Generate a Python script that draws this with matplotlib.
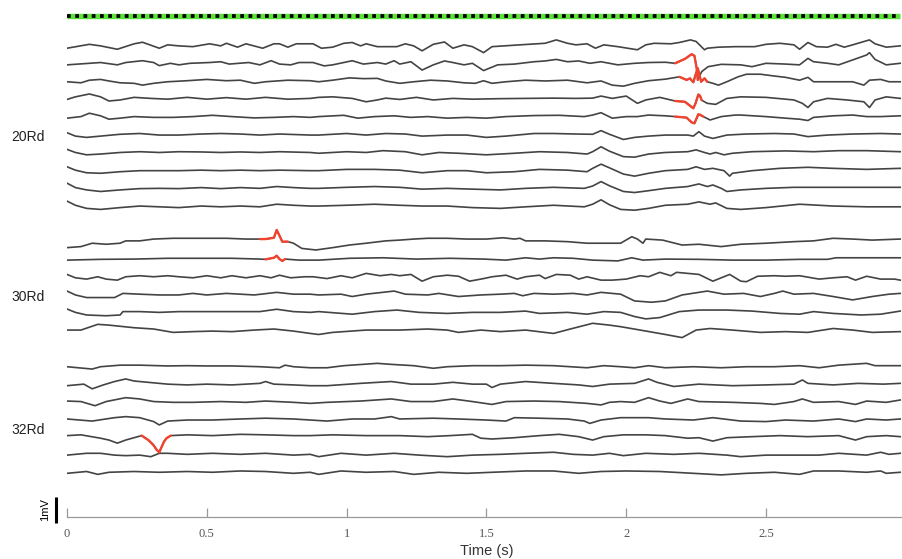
import numpy as np
import matplotlib
matplotlib.use("Agg")
import matplotlib.pyplot as plt

# ---- data: each trace is (time in s, deviation in mV) keypoints ----
trace_01 = [(0, -.09), (.08, .06), (.12, 0), (.18, -.13), (.24, .08), (.27, .14), (.33, -.09), (.36, .04), (.40, 0), (.45, -.03), (.51, .08), (.55, 0), (.57, .10), (.61, -.05), (.64, .08), (.70, -.09), (.74, .08), (.76, .08), (.79, -.05), (.82, .08), (.88, .08), (.91, -.09), (.95, -.05), (.99, .10), (1.02, .13), (1.05, 0), (1.07, .08), (1.11, -.03), (1.18, -.03), (1.21, .08), (1.24, 0), (1.27, -.19), (1.31, .06), (1.35, .15), (1.38, -.09), (1.42, .04), (1.45, -.03), (1.49, -.26), (1.52, -.03), (1.62, .04), (1.71, .10), (1.75, .23), (1.79, .10), (1.82, .04), (1.86, .08), (1.89, -.09), (1.92, .04), (1.97, -.03), (2.04, -.15), (2.07, .04), (2.10, .10), (2.16, .08), (2.19, .13), (2.23, .23), (2.25, .17), (2.28, -.15), (2.29, -.09), (2.33, -.05), (2.39, -.03), (2.46, -.03), (2.50, .06), (2.55, .10), (2.60, .04), (2.62, -.13), (2.65, .13), (2.68, -.03), (2.72, -.05), (2.75, .06), (2.78, -.05), (2.81, .04), (2.87, .23), (2.89, .08), (2.93, -.05), (2.98, 0)]
trace_02 = [(0, -.06), (.08, 0), (.12, .03), (.18, -.06), (.21, .03), (.27, .10), (.31, .03), (.33, -.09), (.37, 0), (.40, -.06), (.44, 0), (.51, .03), (.55, .06), (.58, -.03), (.65, .03), (.69, -.06), (.73, .10), (.76, -.03), (.80, -.06), (.83, .03), (.88, .03), (.92, -.10), (.95, -.06), (.99, .03), (1.02, .10), (1.06, -.03), (1.11, .03), (1.14, -.03), (1.17, .10), (1.19, -.03), (1.23, .06), (1.27, -.26), (1.31, -.06), (1.35, .09), (1.38, .03), (1.42, -.06), (1.45, 0), (1.49, -.28), (1.54, -.06), (1.60, -.03), (1.67, .06), (1.71, .09), (1.75, .15), (1.79, .06), (1.83, .09), (1.87, 0), (1.91, .06), (1.97, -.06), (2.03, 0), (2.08, .03), (2.14, .04), (2.175, 0), (2.21, .17), (2.234, .35), (2.244, .29), (2.252, -.19), (2.256, -.64), (2.27, -.32), (2.293, -.13), (2.34, -.04), (2.41, -.06), (2.45, -.13), (2.50, 0), (2.57, -.03), (2.62, -.06), (2.65, .19), (2.67, .06), (2.72, 0), (2.76, -.06), (2.81, .13), (2.86, .32), (2.87, .41), (2.89, .15), (2.93, -.06), (2.98, 0)]
trace_03 = [(0, 0), (.05, -.04), (.08, .06), (.12, .09), (.15, .03), (.19, -.04), (.24, -.06), (.27, -.13), (.31, -.06), (.36, 0), (.43, .04), (.50, .09), (.57, .04), (.62, .06), (.67, -.06), (.71, 0), (.79, .06), (.87, .04), (.90, 0), (.95, .06), (1.01, .15), (1.06, .12), (1.11, .13), (1.14, .03), (1.19, -.06), (1.24, 0), (1.30, .06), (1.36, .03), (1.42, -.04), (1.46, -.06), (1.49, .04), (1.52, -.06), (1.57, 0), (1.64, .06), (1.71, .03), (1.79, .06), (1.86, -.04), (1.91, .03), (1.95, -.13), (1.99, -.17), (2.03, -.06), (2.08, .04), (2.14, .10), (2.19, .19), (2.216, .07), (2.228, .13), (2.24, -.02), (2.248, .26), (2.256, .52), (2.262, .26), (2.268, 0), (2.28, .13), (2.29, 0), (2.31, -.06), (2.33, -.13), (2.36, 0), (2.40, .19), (2.43, .29), (2.48, .29), (2.53, .22), (2.57, .17), (2.62, .06), (2.65, .17), (2.67, 0), (2.72, 0), (2.81, 0), (2.85, -.13), (2.87, .06), (2.91, .09), (2.94, 0), (2.98, 0)]
trace_04 = [(0, -.04), (.03, .06), (.08, .17), (.12, .06), (.15, -.10), (.19, -.06), (.24, .04), (.30, 0), (.36, -.03), (.43, .04), (.50, -.03), (.57, .03), (.64, -.03), (.71, .04), (.79, -.03), (.87, 0), (.90, .04), (.95, .06), (1.02, 0), (1.07, -.13), (1.11, -.06), (1.14, .01), (1.19, -.04), (1.25, .04), (1.31, -.06), (1.38, 0), (1.45, -.03), (1.55, -.01), (1.64, 0), (1.74, .01), (1.82, 0), (1.88, .01), (1.91, .09), (1.95, 0), (2.0, .09), (2.04, -.19), (2.07, -.06), (2.12, .04), (2.175, -.10), (2.21, -.13), (2.228, -.28), (2.24, -.38), (2.248, -.19), (2.258, .15), (2.264, .10), (2.27, -.07), (2.29, -.19), (2.32, -.23), (2.36, 0), (2.41, .06), (2.50, .04), (2.60, -.06), (2.63, -.19), (2.65, -.35), (2.67, -.13), (2.72, 0), (2.79, -.06), (2.85, -.13), (2.87, -.35), (2.89, -.06), (2.93, .06), (2.98, 0)]
trace_05 = [(0, -.06), (.05, 0), (.08, .13), (.12, .03), (.15, -.10), (.19, -.06), (.24, 0), (.31, -.03), (.38, -.03), (.45, 0), (.52, .05), (.59, 0), (.67, -.05), (.74, -.03), (.81, 0), (.87, -.03), (.90, 0), (.99, .05), (1.04, -.06), (1.10, 0), (1.17, .03), (1.23, -.03), (1.29, 0), (1.36, -.06), (1.43, -.03), (1.50, -.06), (1.57, 0), (1.67, .04), (1.76, .05), (1.85, 0), (1.88, .06), (1.91, .15), (1.95, -.06), (2.0, 0), (2.04, 0), (2.08, .06), (2.14, .03), (2.175, 0), (2.216, -.04), (2.234, -.22), (2.244, -.26), (2.252, -.06), (2.258, .09), (2.264, .07), (2.276, 0), (2.30, -.13), (2.34, 0), (2.39, .06), (2.41, .06), (2.50, 0), (2.57, -.06), (2.62, -.10), (2.65, -.15), (2.67, -.03), (2.74, .03), (2.81, .06), (2.86, 0), (2.91, 0), (2.98, .03)]
trace_06 = [(0, .09), (.03, -.04), (.07, -.09), (.12, -.04), (.19, .03), (.26, .06), (.33, 0), (.40, 0), (.48, .04), (.55, .06), (.62, .04), (.69, 0), (.76, .04), (.87, 0), (.90, 0), (1.0, .06), (1.07, 0), (1.14, .06), (1.21, .04), (1.27, -.04), (1.36, 0), (1.43, 0), (1.50, -.09), (1.57, -.04), (1.67, .06), (1.74, .06), (1.82, .04), (1.88, .03), (1.91, .17), (1.94, .03), (1.99, -.17), (2.03, -.09), (2.08, -.04), (2.14, 0), (2.22, 0), (2.24, -.04), (2.26, .13), (2.28, -.04), (2.31, -.13), (2.36, 0), (2.43, .04), (2.53, .06), (2.60, .04), (2.65, -.06), (2.72, 0), (2.81, .04), (2.91, .06), (2.98, .04)]
trace_07 = [(0, .15), (.03, .03), (.07, -.06), (.12, -.03), (.19, .03), (.26, .06), (.33, .03), (.40, .06), (.48, .05), (.55, .03), (.62, .05), (.69, .03), (.76, .06), (.87, .03), (.90, 0), (1.0, .06), (1.07, .03), (1.13, .10), (1.21, .06), (1.27, -.06), (1.33, .03), (1.40, 0), (1.50, -.06), (1.60, 0), (1.69, .06), (1.79, .03), (1.86, -.03), (1.88, .06), (1.91, .25), (1.94, .08), (1.99, -.13), (2.03, -.15), (2.08, -.03), (2.14, .03), (2.22, .06), (2.25, .13), (2.28, .03), (2.30, -.03), (2.32, .03), (2.35, -.06), (2.38, 0), (2.45, .06), (2.57, .09), (2.67, .06), (2.76, .10), (2.86, .10), (2.98, .06)]
trace_08 = [(0, .19), (.03, .06), (.07, -.04), (.12, -.06), (.19, 0), (.26, .04), (.33, .04), (.40, .04), (.48, .06), (.55, .04), (.62, .06), (.69, .04), (.76, .06), (.87, .04), (.90, .04), (1.0, .09), (1.10, .09), (1.19, .06), (1.27, -.04), (1.36, .04), (1.43, .04), (1.50, -.04), (1.60, 0), (1.69, .09), (1.79, .06), (1.86, 0), (1.88, .13), (1.91, .29), (1.94, .15), (1.99, -.09), (2.03, -.17), (2.08, -.06), (2.14, .04), (2.22, .09), (2.25, .19), (2.28, .09), (2.31, .13), (2.35, .04), (2.37, -.17), (2.38, -.06), (2.45, .04), (2.55, .13), (2.65, .17), (2.74, .13), (2.86, .09), (2.98, .13)]
trace_09 = [(0, .26), (.03, .09), (.07, 0), (.12, -.06), (.19, 0), (.26, .05), (.33, .06), (.40, .05), (.48, .09), (.55, .05), (.62, .09), (.69, .06), (.75, .13), (.81, .09), (.87, .06), (.90, .06), (1.0, .10), (1.10, .13), (1.19, .10), (1.27, .03), (1.36, .06), (1.45, .03), (1.55, 0), (1.64, .06), (1.74, .10), (1.85, .06), (1.88, .15), (1.91, .32), (1.94, .16), (1.99, -.06), (2.03, -.10), (2.08, -.03), (2.14, .06), (2.22, .13), (2.26, .23), (2.29, .13), (2.31, .19), (2.34, .06), (2.36, -.06), (2.41, 0), (2.50, .06), (2.60, .10), (2.69, .10), (2.81, .10), (2.98, .10)]
trace_10 = [(0, .22), (.03, .06), (.07, -.06), (.12, -.10), (.19, -.03), (.26, .03), (.33, 0), (.40, -.03), (.48, .03), (.55, 0), (.62, .03), (.69, 0), (.75, .10), (.81, .06), (.87, .03), (.90, .03), (1.0, .06), (1.10, .10), (1.19, .06), (1.27, .03), (1.36, .03), (1.45, -.03), (1.55, -.06), (1.64, 0), (1.74, .06), (1.85, 0), (1.88, .10), (1.91, .27), (1.94, .08), (1.98, -.10), (2.03, -.13), (2.08, -.06), (2.14, .06), (2.22, .10), (2.26, .19), (2.30, .10), (2.32, .15), (2.36, -.06), (2.41, -.10), (2.50, -.03), (2.62, .10), (2.74, .03), (2.86, 0), (2.98, 0)]
trace_11 = [(0, -.23), (.05, -.19), (.09, -.06), (.14, -.10), (.19, -.06), (.21, .03), (.26, .03), (.31, .10), (.38, .13), (.48, .13), (.57, .13), (.64, .10), (.69, .10), (.71, .10), (.74, .15), (.75, .45), (.76, .23), (.77, 0), (.79, 0), (.81, -.06), (.84, -.26), (.89, -.32), (.95, -.23), (1.01, -.13), (1.07, -.06), (1.14, .03), (1.19, .06), (1.24, .10), (1.29, .13), (1.36, .13), (1.43, .10), (1.50, .10), (1.56, .15), (1.60, .10), (1.62, .13), (1.64, .03), (1.71, .03), (1.79, 0), (1.86, -.06), (1.91, -.06), (1.98, -.06), (2.02, .19), (2.04, .10), (2.06, -.06), (2.07, .10), (2.13, .06), (2.20, -.13), (2.26, -.10), (2.34, -.19), (2.41, -.10), (2.50, -.06), (2.60, 0), (2.67, .03), (2.74, .13), (2.81, .10), (2.88, .06), (2.98, .10)]
trace_12 = [(0, -.03), (.12, 0), (.24, .01), (.36, .04), (.48, .04), (.59, .04), (.69, .01), (.71, 0), (.74, .06), (.75, .14), (.76, .01), (.77, -.06), (.78, .01), (.83, -.03), (.90, -.03), (1.01, .04), (1.13, .06), (1.25, .01), (1.37, .04), (1.49, .01), (1.57, -.03), (1.64, .06), (1.69, .01), (1.74, .06), (1.81, .04), (1.88, -.03), (1.97, -.06), (2.02, .06), (2.06, -.03), (2.14, .01), (2.26, 0), (2.38, -.03), (2.50, -.03), (2.62, 0), (2.72, 0), (2.75, .06), (2.86, .06), (2.98, .06)]
trace_13 = [(0, .13), (.03, 0), (.07, -.05), (.11, .04), (.14, -.05), (.18, -.09), (.21, .04), (.26, .08), (.31, .04), (.36, .08), (.40, .04), (.45, 0), (.50, .08), (.55, 0), (.59, .08), (.64, 0), (.69, .08), (.73, 0), (.76, .10), (.80, 0), (.85, .04), (.88, .04), (.93, -.03), (.98, .08), (1.02, 0), (1.07, .17), (1.12, .08), (1.16, .13), (1.19, .08), (1.23, .13), (1.27, -.13), (1.31, .04), (1.36, .10), (1.40, .06), (1.44, -.13), (1.49, -.03), (1.52, .04), (1.57, .10), (1.61, -.05), (1.64, .04), (1.69, .10), (1.71, -.03), (1.75, .13), (1.80, .10), (1.83, -.05), (1.86, .04), (1.91, -.09), (1.95, -.09), (2.0, -.05), (2.05, .08), (2.08, .04), (2.12, .21), (2.16, .08), (2.18, .21), (2.22, .17), (2.26, .13), (2.31, -.13), (2.37, .13), (2.41, -.13), (2.43, -.15), (2.47, .06), (2.53, .08), (2.57, .06), (2.62, .08), (2.69, -.05), (2.74, 0), (2.79, .04), (2.82, -.09), (2.86, .06), (2.91, -.05), (2.96, -.05), (2.98, -.09)]
trace_14 = [(0, .15), (.03, 0), (.07, -.10), (.12, -.10), (.17, -.10), (.20, .06), (.26, .03), (.33, 0), (.40, 0), (.45, .06), (.50, 0), (.57, .06), (.62, .03), (.67, 0), (.75, .10), (.81, .03), (.87, .03), (.90, 0), (.98, .03), (1.02, -.06), (1.07, .03), (1.17, .15), (1.21, .03), (1.29, 0), (1.33, .06), (1.40, -.06), (1.48, 0), (1.55, .03), (1.60, .06), (1.63, -.03), (1.67, .06), (1.74, .03), (1.81, .06), (1.86, 0), (1.91, .10), (1.98, .03), (2.03, -.23), (2.09, -.28), (2.14, -.23), (2.20, 0), (2.29, .15), (2.35, .03), (2.42, .06), (2.48, -.06), (2.53, .06), (2.56, .15), (2.60, .03), (2.67, .06), (2.74, -.06), (2.81, -.19), (2.88, -.06), (2.94, .03), (2.98, .06)]
trace_15 = [(0, .14), (.03, .01), (.07, -.09), (.14, -.12), (.19, -.09), (.20, .04), (.26, .04), (.33, .01), (.40, .04), (.48, .04), (.55, .04), (.62, .04), (.69, .04), (.75, .13), (.81, .04), (.87, .01), (.90, .04), (1.02, -.06), (1.10, .04), (1.18, .10), (1.26, .01), (1.36, -.03), (1.45, .01), (1.55, .01), (1.64, .06), (1.69, -.03), (1.79, .01), (1.86, -.06), (1.92, .04), (1.98, .01), (2.03, -.15), (2.07, -.24), (2.12, -.19), (2.19, .04), (2.26, .10), (2.36, .10), (2.45, .06), (2.55, -.03), (2.62, -.06), (2.67, .04), (2.74, -.03), (2.84, -.09), (2.91, -.06), (2.98, .06)]
trace_16 = [(0, 0), (.05, 0), (.11, .22), (.15, .19), (.24, .09), (.31, .04), (.38, -.09), (.45, -.06), (.52, -.04), (.59, -.06), (.67, 0), (.74, .04), (.81, -.04), (.87, -.13), (.90, -.17), (.95, -.09), (1.07, 0), (1.19, 0), (1.29, .04), (1.36, 0), (1.40, -.09), (1.48, 0), (1.55, -.06), (1.64, 0), (1.74, -.13), (1.80, .04), (1.88, .26), (1.94, .19), (1.98, .13), (2.05, 0), (2.14, -.17), (2.20, -.29), (2.25, 0), (2.30, .06), (2.38, 0), (2.48, -.09), (2.57, -.06), (2.65, -.09), (2.74, .06), (2.81, 0), (2.88, -.09), (2.98, -.06)]
trace_17 = [(0, 0), (.06, -.06), (.09, -.09), (.12, 0), (.19, .06), (.26, .06), (.36, .03), (.43, .04), (.50, .03), (.59, .03), (.69, 0), (.76, -.04), (.78, .06), (.81, 0), (.87, -.04), (.93, -.04), (.99, .04), (1.11, .13), (1.16, .09), (1.24, .04), (1.31, -.06), (1.36, 0), (1.45, .04), (1.55, .04), (1.64, .06), (1.74, .04), (1.86, -.04), (1.92, .04), (1.98, 0), (2.03, -.04), (2.08, .04), (2.14, -.04), (2.24, 0), (2.34, -.04), (2.43, 0), (2.53, 0), (2.62, .04), (2.69, -.04), (2.76, .06), (2.86, .13), (2.89, .04), (2.98, .04)]
trace_18 = [(0, -.03), (.06, .03), (.09, -.15), (.13, 0), (.17, .13), (.21, .23), (.24, .15), (.29, .10), (.36, .03), (.43, 0), (.50, .03), (.59, 0), (.69, .06), (.71, .13), (.74, .03), (.81, 0), (.87, -.03), (.93, -.03), (1.05, .06), (1.16, .13), (1.23, .03), (1.31, .03), (1.38, .10), (1.45, .03), (1.50, .03), (1.52, -.10), (1.55, .03), (1.64, .13), (1.74, .06), (1.83, 0), (1.88, -.06), (1.94, .03), (2.03, .06), (2.08, .23), (2.11, .10), (2.17, -.06), (2.26, .03), (2.38, -.03), (2.50, 0), (2.60, .03), (2.63, .19), (2.65, .06), (2.74, 0), (2.83, .06), (2.92, .03), (2.98, .06)]
trace_19 = [(0, .05), (.05, .03), (.10, -.13), (.14, .03), (.21, .18), (.26, .13), (.31, .03), (.38, 0), (.45, 0), (.55, .03), (.64, 0), (.71, .05), (.81, 0), (.87, -.04), (.93, 0), (1.05, .05), (1.16, .13), (1.23, .03), (1.31, .03), (1.38, .13), (1.45, .03), (1.52, -.08), (1.57, .03), (1.67, .05), (1.76, .03), (1.86, -.04), (1.91, -.10), (1.94, 0), (1.98, .03), (2.03, 0), (2.08, .18), (2.12, .05), (2.16, -.04), (2.22, .13), (2.26, .03), (2.38, 0), (2.48, -.04), (2.53, -.08), (2.60, .03), (2.63, .13), (2.67, 0), (2.76, .03), (2.82, -.08), (2.86, .05), (2.93, 0), (2.98, .09)]
trace_20 = [(0, 0), (.09, -.08), (.17, .05), (.21, .09), (.26, .05), (.31, -.10), (.33, -.23), (.36, -.08), (.43, -.04), (.52, -.04), (.62, 0), (.71, .03), (.81, 0), (.87, -.04), (.93, -.08), (1.02, 0), (1.10, 0), (1.16, .09), (1.19, 0), (1.31, .03), (1.40, 0), (1.50, -.04), (1.57, -.08), (1.60, .05), (1.69, .03), (1.79, 0), (1.85, -.08), (1.87, -.17), (1.91, -.04), (1.98, .05), (2.08, .05), (2.14, 0), (2.24, -.04), (2.31, .05), (2.41, -.08), (2.50, -.10), (2.57, -.04), (2.67, -.08), (2.76, 0), (2.82, -.10), (2.86, 0), (2.93, -.04), (2.98, 0)]
trace_21 = [(0, 0), (.05, .03), (.12, -.10), (.15, -.17), (.18, -.29), (.21, -.17), (.26, -.02), (.267, 0), (.291, -.17), (.309, -.36), (.321, -.55), (.330, -.64), (.339, -.42), (.347, -.23), (.356, -.10), (.371, 0), (.43, .03), (.52, 0), (.62, .05), (.71, .03), (.81, 0), (.87, 0), (.95, .03), (1.07, 0), (1.19, 0), (1.29, -.04), (1.37, 0), (1.45, .05), (1.48, -.10), (1.52, -.13), (1.60, -.08), (1.69, 0), (1.76, .05), (1.83, -.04), (1.88, -.17), (1.92, -.04), (1.99, .03), (2.07, .03), (2.14, 0), (2.22, -.10), (2.26, -.08), (2.31, -.21), (2.36, -.08), (2.45, -.04), (2.55, 0), (2.65, -.04), (2.76, 0), (2.82, -.17), (2.86, -.04), (2.93, 0), (2.98, -.04)]
trace_22 = [(0, -.03), (.07, .04), (.12, .04), (.17, -.03), (.21, -.05), (.26, -.03), (.30, -.09), (.33, .04), (.36, .04), (.43, 0), (.52, .04), (.62, 0), (.71, .04), (.81, -.03), (.87, 0), (.90, -.09), (.98, .04), (1.07, -.03), (1.17, .04), (1.26, -.03), (1.36, -.09), (1.45, -.03), (1.55, 0), (1.64, .04), (1.74, .08), (1.81, 0), (1.88, -.03), (1.94, .04), (1.99, -.05), (2.07, .04), (2.17, 0), (2.26, .04), (2.36, -.03), (2.41, -.09), (2.50, -.03), (2.60, -.03), (2.69, -.03), (2.76, .04), (2.86, -.03), (2.91, .08), (2.94, 0), (2.98, .04)]
trace_23 = [(0, -.04), (.07, .03), (.11, -.08), (.15, 0), (.24, .03), (.33, 0), (.43, .03), (.52, 0), (.62, .05), (.71, .03), (.81, -.04), (.87, 0), (.90, -.08), (.98, .05), (1.07, 0), (1.17, .03), (1.24, -.08), (1.33, 0), (1.43, -.04), (1.52, 0), (1.64, .05), (1.74, .05), (1.83, -.04), (1.91, .03), (2.0, .05), (2.12, .03), (2.24, -.04), (2.34, -.10), (2.43, -.04), (2.53, 0), (2.62, -.08), (2.67, .05), (2.76, .05), (2.86, 0), (2.91, .05), (2.93, -.04), (2.98, 0)]

# vertical offset of each channel (mV)
offsets_mv = [18.12, 17.45, 16.74, 16.10, 15.40, 14.69, 13.99, 13.28, 12.58, 11.93,
              10.59, 9.91, 9.20, 8.54, 7.86, 7.19,
              5.78, 5.08, 4.41, 3.77, 3.13, 2.41, 1.72]

# detected events drawn in red: (channel index, start s, end s)
events = [(1, 2.175, 2.256), (2, 2.19, 2.29), (3, 2.175, 2.27), (4, 2.175, 2.276),
          (10, 0.69, 0.79), (11, 0.71, 0.78), (20, 0.267, 0.371)]

group_names = ["20Rd", "30Rd", "32Rd"]
group_label_mv = [14.63, 8.47, 3.35]

window_s = (0.0, 2.98)
scale_bar_mv = 1.0
time_ticks = [0, 0.5, 1, 1.5, 2, 2.5]

traces = [trace_01, trace_02, trace_03, trace_04, trace_05, trace_06, trace_07, trace_08,
          trace_09, trace_10, trace_11, trace_12, trace_13, trace_14, trace_15, trace_16,
          trace_17, trace_18, trace_19, trace_20, trace_21, trace_22, trace_23]

plt.rcParams["font.family"] = ["Liberation Sans", "DejaVu Sans"]

W, H = 902, 559
fig = plt.figure(figsize=(W / 100, H / 100), dpi=100)
px_per_mv = 26.0
x0_px, x_end_px, y0_px = 67, 67 + 3.0 * 279.6, 517
ax = fig.add_axes([x0_px / W, (H - y0_px) / H, (x_end_px - x0_px) / W, y0_px / H])
ax.set_xlim(0, 3.0)
ax.set_ylim(0, y0_px / px_per_mv)

trace_color = "#444444"
red = "#f2432f"

for tr, off in zip(traces, offsets_mv):
    arr = np.array(tr)
    ax.plot(arr[:, 0], arr[:, 1] + off, color=trace_color, lw=1.2, solid_joinstyle="round")

for ch, t0, t1 in events:
    arr = np.array(traces[ch])
    sel = (arr[:, 0] >= t0 - 1e-9) & (arr[:, 0] <= t1 + 1e-9)
    ax.plot(arr[sel, 0], arr[sel, 1] + offsets_mv[ch], color=red, lw=1.7,
            solid_capstyle="round", solid_joinstyle="round", zorder=3)

# analysis window bar on top
bar_y = offsets_mv[0] + 1.15
ax.plot(window_s, [bar_y, bar_y], color="#5ee03c", lw=3.9, solid_capstyle="butt", clip_on=False)
ax.plot(window_s, [bar_y, bar_y], color="black", lw=2.7, dash_capstyle="butt",
        linestyle=(0, (1.0, 1.2)), clip_on=False)

# group labels
for name, yv in zip(group_names, group_label_mv):
    ax.text(-0.2, yv, name, ha="left", va="center", fontsize=10, color="#222222", clip_on=False)

# scale bar
sb_x = -0.039
sb_y0 = -0.23
ax.plot([sb_x, sb_x], [sb_y0, sb_y0 + scale_bar_mv], color="black", lw=2.2,
        solid_capstyle="butt", clip_on=False)
ax.text(-0.079, sb_y0 + scale_bar_mv / 2, "1mV", rotation=90, ha="center", va="center",
        fontsize=8, color="black")

for side in ("left", "top", "right"):
    ax.spines[side].set_visible(False)
ax.spines["bottom"].set_color("#999999")
ax.spines["bottom"].set_linewidth(0.9)
ax.set_yticks([])
ax.set_xticks(time_ticks)
ax.set_xticklabels(["0", "0.5", "1", "1.5", "2", "2.5"], family="Liberation Serif",
                   fontsize=9, color="#555555")
ax.tick_params(axis="x", direction="in", length=6.5, width=0.9, color="#999999", pad=8)
ax.set_xlabel("Time (s)", fontsize=10.5, color="#333333", labelpad=3)

fig.savefig("out.png", dpi=100)
